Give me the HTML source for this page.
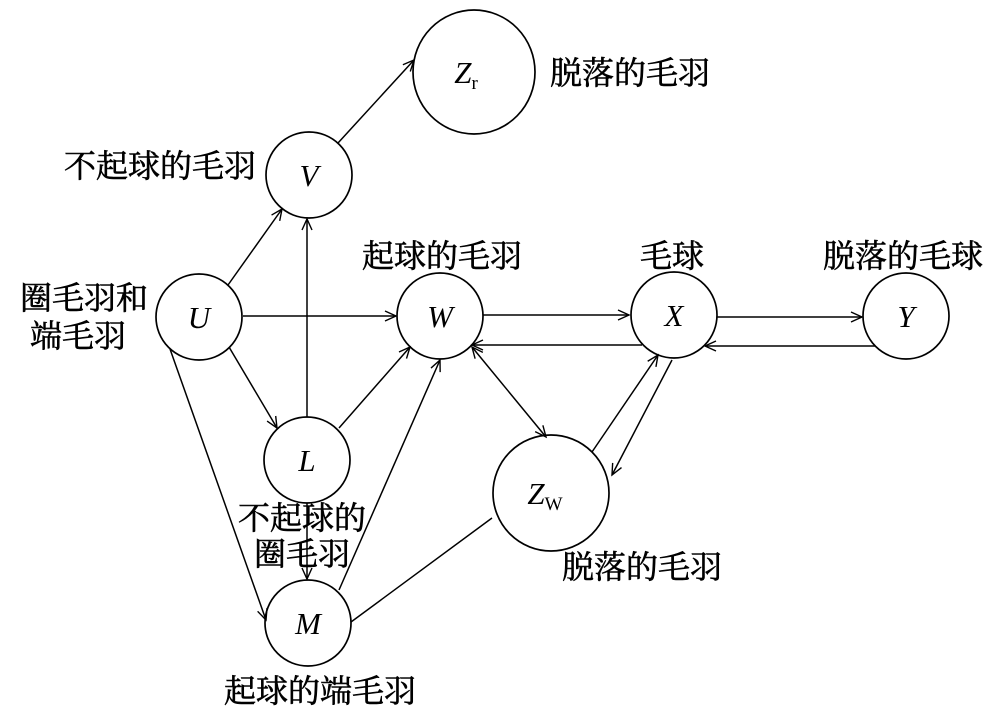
<!DOCTYPE html>
<html><head><meta charset="utf-8"><style>
html,body{margin:0;padding:0;background:#fff}
svg{display:block}
.c{font-family:"Liberation Serif","Noto Serif CJK SC",serif;font-size:32px;fill:#000;stroke:#000;stroke-width:0.6}
.v{font-family:"Liberation Serif",serif;font-style:italic;font-size:31px;fill:#000}
</style></head><body>
<svg width="1000" height="717" viewBox="0 0 1000 717" xmlns="http://www.w3.org/2000/svg">
<defs>
<marker id="a" markerWidth="14" markerHeight="14" refX="12" refY="7" orient="auto" markerUnits="userSpaceOnUse">
<path d="M1,2 L12,7 L1,12" fill="none" stroke="#000" stroke-width="1.4"/>
</marker>
<marker id="s" markerWidth="14" markerHeight="14" refX="2" refY="7" orient="auto" markerUnits="userSpaceOnUse">
<path d="M13,2 L2,7 L13,12" fill="none" stroke="#000" stroke-width="1.4"/>
</marker>
</defs>
<g fill="none" stroke="#000" stroke-width="1.7">
<ellipse cx="474" cy="72" rx="61" ry="62"/>
<circle cx="309" cy="175" r="43"/>
<circle cx="199" cy="317" r="43"/>
<circle cx="440" cy="316" r="43"/>
<circle cx="674" cy="315" r="43"/>
<circle cx="906" cy="316" r="43"/>
<circle cx="307" cy="460" r="43"/>
<circle cx="551" cy="493" r="58"/>
<circle cx="308" cy="623" r="43"/>
</g>
<g fill="none" stroke="#000" stroke-width="1.5">
<line x1="338" y1="143" x2="414" y2="60" marker-end="url(#a)"/>
<line x1="228" y1="285" x2="282" y2="209" marker-end="url(#a)"/>
<line x1="243" y1="316" x2="396" y2="316" marker-end="url(#a)"/>
<line x1="229" y1="347" x2="277" y2="428" marker-end="url(#a)"/>
<line x1="170" y1="349" x2="266" y2="620" marker-end="url(#a)"/>
<line x1="307" y1="417" x2="307" y2="219" marker-end="url(#a)"/>
<line x1="339" y1="428" x2="410" y2="347" marker-end="url(#a)"/>
<line x1="339" y1="590" x2="440" y2="360" marker-end="url(#a)"/>
<line x1="307" y1="503" x2="307" y2="579" marker-end="url(#a)"/>
<line x1="483" y1="315" x2="629" y2="315" marker-end="url(#a)"/>
<line x1="642" y1="345" x2="472" y2="345" marker-end="url(#a)"/>
<line x1="717" y1="317" x2="862" y2="317" marker-end="url(#a)"/>
<line x1="875" y1="346" x2="705" y2="346" marker-end="url(#a)"/>
<line x1="472" y1="347" x2="546" y2="437" marker-start="url(#s)" marker-end="url(#a)"/>
<line x1="592" y1="452" x2="658" y2="355" marker-end="url(#a)"/>
<line x1="672" y1="360" x2="612" y2="475" marker-end="url(#a)"/>
<line x1="492" y1="518" x2="351" y2="622"/>
</g>
<g class="v" text-anchor="middle">
<text x="466" y="83">Z<tspan font-style="normal" font-size="19" dy="6">r</tspan></text>
<text x="309" y="186">V</text>
<text x="199" y="328">U</text>
<text x="440" y="327">W</text>
<text x="674" y="326">X</text>
<text x="906" y="327">Y</text>
<text x="307" y="471">L</text>
<text x="545" y="504">Z<tspan font-style="normal" font-size="19" dy="6">W</tspan></text>
<text x="308" y="634">M</text>
</g>
<g class="c">
<text x="550" y="84">脱落的毛羽</text>
<text x="64" y="177">不起球的毛羽</text>
<text x="362" y="267">起球的毛羽</text>
<text x="640" y="267">毛球</text>
<text x="823" y="267">脱落的毛球</text>
<text x="20" y="309">圈毛羽和</text>
<text x="30" y="347">端毛羽</text>
<text x="238" y="529">不起球的</text>
<text x="254" y="565">圈毛羽</text>
<text x="562" y="578">脱落的毛羽</text>
<text x="224" y="702">起球的端毛羽</text>
</g>
</svg>
</body></html>
